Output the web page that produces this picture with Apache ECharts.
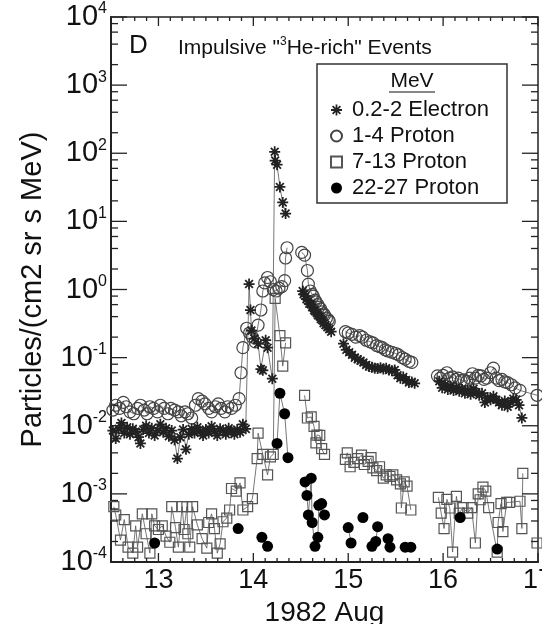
<!DOCTYPE html>
<html><head><meta charset="utf-8">
<script src="https://cdn.jsdelivr.net/npm/echarts@6/dist/echarts.min.js"></script>
<style>html,body{margin:0;padding:0;background:#fff}#c{width:542px;height:624px}</style>
</head><body><div id="c"></div>
<script>
// ---- axis ticks / labels ----
const xTickLabels = [13, 14, 15, 16, 17];
const yTickExponents = [-4, -3, -2, -1, 0, 1, 2, 3, 4];
const seriesNames = ['0.2-2 Electron', '1-4 Proton', '7-13 Proton', '22-27 Proton'];

// ---- data: [day of Aug 1982, Particles/(cm2 sr s MeV)], '-' = gap ----
const electron = [
[12.52,0.0085],[12.55,0.0065],[12.58,0.009],[12.61,0.011],[12.64,0.0078],[12.67,0.0095],[12.7,0.0075],[12.73,0.009],[12.76,0.0082],[12.79,0.0068],[12.81,0.0055],[12.84,0.0088],[12.87,0.01],[12.9,0.0078],[12.93,0.0092],[12.96,0.0072],[12.99,0.0085],[13.02,0.0105],[13.05,0.008],[13.08,0.0092],[13.11,0.007],[13.14,0.0085],[13.17,0.0062],[13.2,0.0033],[13.23,0.0068],[13.26,0.0088],[13.29,0.0045],[13.32,0.0075],[13.35,0.009],[13.38,0.0078],[13.41,0.0095],[13.44,0.0083],[13.47,0.0072],[13.5,0.0088],[13.53,0.0078],[13.56,0.0098],[13.59,0.0083],[13.62,0.0072],[13.65,0.009],[13.68,0.0085],[13.71,0.0075],[13.74,0.0092],[13.77,0.0082],[13.8,0.0075],[13.83,0.0088],[13.86,0.008],[13.89,0.0105],[13.92,0.009],
[13.955,1.2],[13.97,0.5],[13.98,0.25],[14.01,0.19],[14.05,0.16],[14.08,0.068],[14.1,0.065],[14.13,0.18],[14.15,0.14],[14.2,0.049],
[14.225,105],[14.23,78],[14.25,68],[14.28,32],[14.31,19],[14.34,13],'-',
[14.52,0.95],[14.53,0.85],[14.55,0.8],[14.56,0.72],[14.58,0.68],[14.59,0.62],[14.61,0.6],[14.62,0.55],[14.64,0.5],[14.65,0.48],[14.67,0.45],[14.68,0.42],[14.7,0.4],[14.71,0.37],[14.73,0.35],[14.74,0.32],[14.76,0.3],[14.78,0.28],[14.8,0.26],[14.82,0.24],'-',
[14.95,0.16],[14.98,0.13],[15.01,0.12],[15.04,0.11],[15.07,0.1],[15.1,0.095],[15.13,0.09],[15.16,0.085],[15.19,0.078],[15.22,0.074],[15.25,0.072],[15.28,0.07],[15.31,0.069],[15.34,0.071],[15.37,0.068],[15.4,0.07],[15.43,0.066],[15.46,0.064],[15.49,0.066],[15.52,0.055],[15.55,0.05],[15.58,0.052],[15.61,0.047],[15.64,0.043],[15.67,0.044],[15.7,0.042],'-',
[15.96,0.045],[15.99,0.036],[16.02,0.04],[16.05,0.034],[16.08,0.038],[16.11,0.033],[16.14,0.036],[16.17,0.032],[16.2,0.034],[16.23,0.03],[16.26,0.033],[16.29,0.029],[16.32,0.035],[16.35,0.031],[16.38,0.028],[16.41,0.03],[16.44,0.022],[16.47,0.026],[16.5,0.024],[16.53,0.027],[16.56,0.024],[16.59,0.022],[16.62,0.02],[16.65,0.023],[16.68,0.019],[16.71,0.022],[16.74,0.025],[16.77,0.024],[16.8,0.02],[16.83,0.013]
];
const proton1to4 = [
[12.52,0.017],[12.55,0.02],[12.59,0.018],[12.63,0.022],[12.66,0.019],[12.7,0.016],[12.74,0.015],[12.78,0.018],[12.81,0.02],[12.85,0.017],[12.88,0.015],[12.91,0.019],[12.95,0.018],[12.99,0.016],[13.02,0.02],[13.06,0.018],[13.1,0.015],[13.13,0.018],[13.17,0.017],[13.21,0.016],[13.24,0.014],[13.28,0.016],[13.31,0.015],[13.35,0.013],[13.39,0.02],[13.42,0.025],[13.46,0.023],[13.49,0.021],[13.53,0.018],[13.56,0.016],[13.6,0.019],[13.63,0.021],[13.66,0.018],[13.7,0.016],[13.73,0.019],[13.77,0.018],[13.81,0.02],[13.85,0.025],
[13.87,0.06],[13.89,0.14],[13.93,0.27],[13.96,0.23],[13.99,0.2],[14.02,0.17],[14.05,0.3],[14.08,0.5],[14.1,0.95],[14.12,1.25],[14.15,1.5],[14.18,1.3],[14.21,1.0],[14.24,0.95],[14.27,1.05],[14.3,1.1],[14.33,1.35],[14.34,2.9],[14.355,4.1],'-',
[14.51,3.5],[14.54,3.2],[14.57,1.9],[14.58,1.2],[14.6,0.95],[14.62,0.85],[14.63,0.8],[14.65,0.7],[14.66,0.66],[14.68,0.6],[14.69,0.55],[14.71,0.52],[14.72,0.47],[14.74,0.44],[14.75,0.42],[14.77,0.38],[14.79,0.36],[14.8,0.34],'-',
[14.97,0.24],[15.0,0.23],[15.04,0.22],[15.08,0.2],[15.12,0.21],[15.15,0.2],[15.19,0.18],[15.23,0.17],[15.26,0.165],[15.3,0.15],[15.33,0.145],[15.36,0.14],[15.39,0.13],[15.42,0.125],[15.46,0.12],[15.5,0.115],[15.53,0.11],[15.57,0.1],[15.6,0.095],[15.64,0.088],[15.67,0.085],'-',
[15.94,0.054],[15.97,0.05],[16.0,0.055],[16.04,0.06],[16.07,0.05],[16.1,0.052],[16.13,0.048],[16.16,0.05],[16.19,0.046],[16.22,0.047],[16.25,0.045],[16.28,0.05],[16.31,0.058],[16.34,0.05],[16.37,0.055],[16.4,0.054],[16.43,0.048],[16.46,0.05],[16.5,0.06],[16.53,0.07],[16.56,0.05],[16.59,0.046],[16.62,0.048],[16.65,0.044],[16.68,0.043],[16.72,0.04],[16.76,0.036],[16.81,0.033],[16.99,0.028]
];
const proton7to13 = [
[12.53,6.5e-4],[12.55,4.9e-4],[12.6,2.1e-4],[12.64,4.2e-4],[12.68,1.65e-4],[12.73,1.35e-4],[12.76,3.4e-4],[12.78,1.65e-4],[12.83,5.1e-4],[12.87,2.6e-4],[12.91,1.35e-4],[12.93,5.1e-4],[12.96,3.4e-4],[13.0,3.0e-4],[13.04,3.4e-4],[13.08,2.4e-4],[13.12,1.95e-4],[13.14,6.5e-4],[13.18,3.2e-4],[13.21,1.65e-4],[13.25,6.5e-4],[13.27,3.0e-4],[13.3,6.5e-4],[13.31,2.6e-4],[13.33,1.65e-4],[13.36,6.5e-4],[13.41,3.5e-4],[13.46,2.2e-4],[13.51,1.6e-4],[13.53,3.8e-4],[13.56,5.1e-4],[13.59,3.1e-4],[13.62,1.35e-4],[13.65,1.85e-4],[13.68,3.9e-4],[13.72,4.4e-4],[13.75,5.8e-4],[13.77,1.2e-3],[13.82,1.1e-3],[13.86,1.45e-3],[13.89,5.8e-4],[13.94,6.5e-4],[13.99,8.5e-4],[14.04,3.3e-3],[14.05,7.8e-3],[14.1,3.8e-3],[14.15,1.9e-3],[14.18,3.5e-3],[14.21,3.8e-3],[14.23,0.74],[14.28,0.21],[14.31,0.075],[14.34,0.165],'-',
[14.54,0.028],[14.57,0.013],[14.61,0.0135],[14.64,0.0098],[14.66,0.0056],[14.67,0.0073],[14.7,0.0072],[14.72,0.0046],[14.75,0.0038],'-',
[14.97,0.0032],[14.99,0.004],[15.02,0.0025],[15.06,0.0029],[15.1,0.0033],[15.14,0.0037],[15.17,0.0027],[15.21,0.003],[15.24,0.0034],[15.26,0.0024],[15.3,0.0022],[15.33,0.0025],[15.37,0.0017],[15.4,0.0019],[15.44,0.0018],[15.47,0.0019],[15.51,0.0016],[15.55,0.0014],[15.56,0.00062],[15.59,0.0015],[15.62,0.0013],[15.66,0.00058],'-',
[15.95,0.00089],[15.98,0.00052],[16.01,0.00031],[16.04,0.00083],[16.07,0.00062],[16.1,0.00014],[16.14,0.00092],[16.17,0.00052],[16.21,0.00063],[16.26,0.00052],[16.3,0.00063],[16.34,0.00019],[16.37,0.001],[16.39,0.00082],[16.42,0.00126],[16.45,0.0011],[16.48,0.00063],[16.57,0.00014],[16.58,0.00038],[16.61,0.00072],[16.63,0.00028],[16.67,0.00075],[16.7,0.00075],[16.81,0.00078],[16.83,0.00031],[16.84,0.002],'-',[16.99,0.00019]
];
const proton22to27 = [
[12.96,1.9e-4],'-',[13.84,3.1e-4],'-',[14.09,2.3e-4],[14.15,1.7e-4],'-',
[14.25,5.5e-3],[14.28,0.03],[14.33,0.015],[14.365,3.4e-3],'-',
[14.545,1.5e-3],[14.565,9.5e-4],[14.58,4.9e-4],[14.61,1.7e-3],[14.62,3.8e-4],[14.65,1.7e-4],[14.68,2.3e-4],[14.69,6.8e-4],[14.72,7.2e-4],[14.75,4.9e-4],'-',
[15.0,3.2e-4],[15.03,1.9e-4],'-',[15.155,4.5e-4],'-',[15.25,1.7e-4],[15.29,2.0e-4],[15.31,3.3e-4],'-',
[15.42,2.2e-4],[15.44,1.65e-4],'-',[15.6,1.65e-4],[15.66,1.65e-4],'-',[16.18,4.5e-4],'-',[16.57,1.55e-4]
];

// ---- styling ----
const FONT = 'Liberation Sans, Arial, sans-serif';
const X_MIN = 12.5, X_MAX = 17, Y_MIN = 1e-4, Y_MAX = 1e4;
const STAR = 'path://M-5,-0.8L5,-0.8L5,0.8L-5,0.8Z M0.8,-5L0.8,5L-0.8,5L-0.8,-5Z M-2.97,-4.1L4.1,2.97L2.97,4.1L-4.1,-2.97Z M2.97,-4.1L4.1,-2.97L-2.97,4.1L-4.1,2.97Z';
const LINE = {color: '#555', width: 0.8};

// tick marks (drawn through the axes' scales)
const tickData = [];
for (let i = 0; i <= 36; i++) {
  const d = X_MIN + i * 0.125;
  const major = xTickLabels.some(v => Math.abs(v - d) < 1e-6);
  tickData.push([d, Y_MIN, 0, major ? 9 : 4]);
}
yTickExponents.forEach(e => {
  tickData.push([X_MIN, Math.pow(10, e), 1, 16]);
  if (e < 4) [2, 4, 6, 8].forEach(m => tickData.push([X_MIN, m * Math.pow(10, e), 1, 7]));
});

const chart = echarts.init(document.getElementById('c'), null, {renderer: 'canvas'});
chart.setOption({
  animation: false,
  backgroundColor: '#fff',
  grid: {left: 111, right: 4, top: 17, bottom: 62, show: true, borderColor: '#222', borderWidth: 1.5, outerBoundsMode: 'none', containLabel: false},
  xAxis: {
    type: 'value', min: X_MIN, max: X_MAX, splitNumber: 5,
    splitLine: {show: false}, axisTick: {show: false},
    axisLine: {show: true, onZero: false, lineStyle: {color: '#222', width: 2}},
    axisLabel: {showMinLabel: false, showMaxLabel: true, margin: 5, color: '#111', fontSize: 27, fontFamily: FONT,
      formatter: v => (Math.abs(v - Math.round(v)) < 1e-6 && xTickLabels.indexOf(Math.round(v)) >= 0) ? String(Math.round(v)) : ''},
    name: '1982 Aug', nameLocation: 'middle', nameGap: 31,
    nameTextStyle: {color: '#111', fontSize: 28, fontFamily: FONT}
  },
  yAxis: {
    type: 'log', logBase: 10, min: Y_MIN, max: Y_MAX, interval: 1,
    splitLine: {show: false}, axisTick: {show: false}, minorTick: {show: false},
    axisLine: {show: true, lineStyle: {color: '#222', width: 2}},
    axisLabel: {margin: 4, color: '#111', fontFamily: FONT,
      formatter: v => '{b|10}{s|' + Math.round(Math.log10(v)) + '}',
      rich: {b: {fontSize: 29, fontFamily: FONT, color: '#111', lineHeight: 32},
             s: {fontSize: 16, fontFamily: FONT, color: '#111', verticalAlign: 'top', lineHeight: 32}}},
    name: 'Particles/(cm2 sr s MeV)', nameLocation: 'middle', nameGap: 64,
    nameTextStyle: {color: '#111', fontSize: 29, fontFamily: FONT}
  },
  legend: {
    orient: 'vertical', left: 325, top: 94, itemGap: 4, itemWidth: 11, itemHeight: 11,
    textStyle: {fontSize: 22, fontFamily: FONT, color: '#111', lineHeight: 22, padding: [0, 0, 0, 5]},
    selectedMode: false,
    data: [
      {name: seriesNames[0], icon: STAR},
      {name: seriesNames[1], icon: 'circle'},
      {name: seriesNames[2], icon: 'rect'},
      {name: seriesNames[3], icon: 'circle'}
    ]
  },
  graphic: [
    {type: 'text', left: 129, top: 33, style: {text: 'D', fontSize: 26, fontFamily: FONT, fill: '#111'}},
    {type: 'text', left: 178, top: 36, style: {text: '{a|Impulsive "}{s|3}{a|He-rich" Events}', fontFamily: FONT, fill: '#111',
      rich: {a: {fontSize: 21, fontFamily: FONT, fill: '#111', lineHeight: 24}, s: {fontSize: 12, fontFamily: FONT, fill: '#111', verticalAlign: 'top', lineHeight: 24}}}},
    {type: 'rect', shape: {x: 317, y: 64, width: 190, height: 139}, style: {fill: 'none', stroke: '#333', lineWidth: 1.5}, z: 10},
    {type: 'text', x: 412, y: 81, style: {text: 'MeV', fontSize: 21, fontFamily: FONT, fill: '#111', align: 'center', verticalAlign: 'middle'}, z: 10},
    {type: 'line', shape: {x1: 389, y1: 92, x2: 435, y2: 92}, style: {stroke: '#111', lineWidth: 1.2}, z: 10}
  ],
  series: [
    {type: 'custom', name: 'ticks', silent: true, coordinateSystem: 'cartesian2d', clip: false,
     dimensions: ['x', 'y', 'k', 'l'], encode: {x: 0, y: 1}, data: tickData, z: 5,
     renderItem: (params, api) => {
       const k = api.value(2), len = api.value(3), st = {stroke: '#222', lineWidth: 1.3};
       if (k === 0) {
         const b = api.coord([api.value(0), Y_MIN]), t = api.coord([api.value(0), Y_MAX]);
         return {type: 'group', children: [
           {type: 'line', shape: {x1: b[0], y1: b[1], x2: b[0], y2: b[1] - len}, style: st},
           {type: 'line', shape: {x1: t[0], y1: t[1], x2: t[0], y2: t[1] + len}, style: st}]};
       }
       const l = api.coord([X_MIN, api.value(1)]), r = api.coord([X_MAX, api.value(1)]);
       return {type: 'group', children: [
         {type: 'line', shape: {x1: l[0], y1: l[1], x2: l[0] + len, y2: l[1]}, style: st},
         {type: 'line', shape: {x1: r[0], y1: r[1], x2: r[0] - len, y2: r[1]}, style: st}]};
     }},
    {type: 'line', name: seriesNames[2], data: proton7to13, symbol: 'rect', symbolSize: 10, showAllSymbol: true,
     itemStyle: {color: 'rgba(255,255,255,0)', borderColor: '#555', borderWidth: 1.2}, lineStyle: LINE, z: 2},
    {type: 'line', name: seriesNames[1], data: proton1to4, symbol: 'circle', symbolSize: 12, showAllSymbol: true,
     itemStyle: {color: 'rgba(255,255,255,0)', borderColor: '#444', borderWidth: 1.2}, lineStyle: LINE, z: 3},
    {type: 'line', name: seriesNames[0], data: electron, symbol: STAR, symbolSize: 11, showAllSymbol: true,
     itemStyle: {color: '#222'}, lineStyle: LINE, z: 4},
    {type: 'line', name: seriesNames[3], data: proton22to27, symbol: 'circle', symbolSize: 11, showAllSymbol: true,
     itemStyle: {color: '#000'}, lineStyle: LINE, z: 6}
  ]
});
</script></body></html>
